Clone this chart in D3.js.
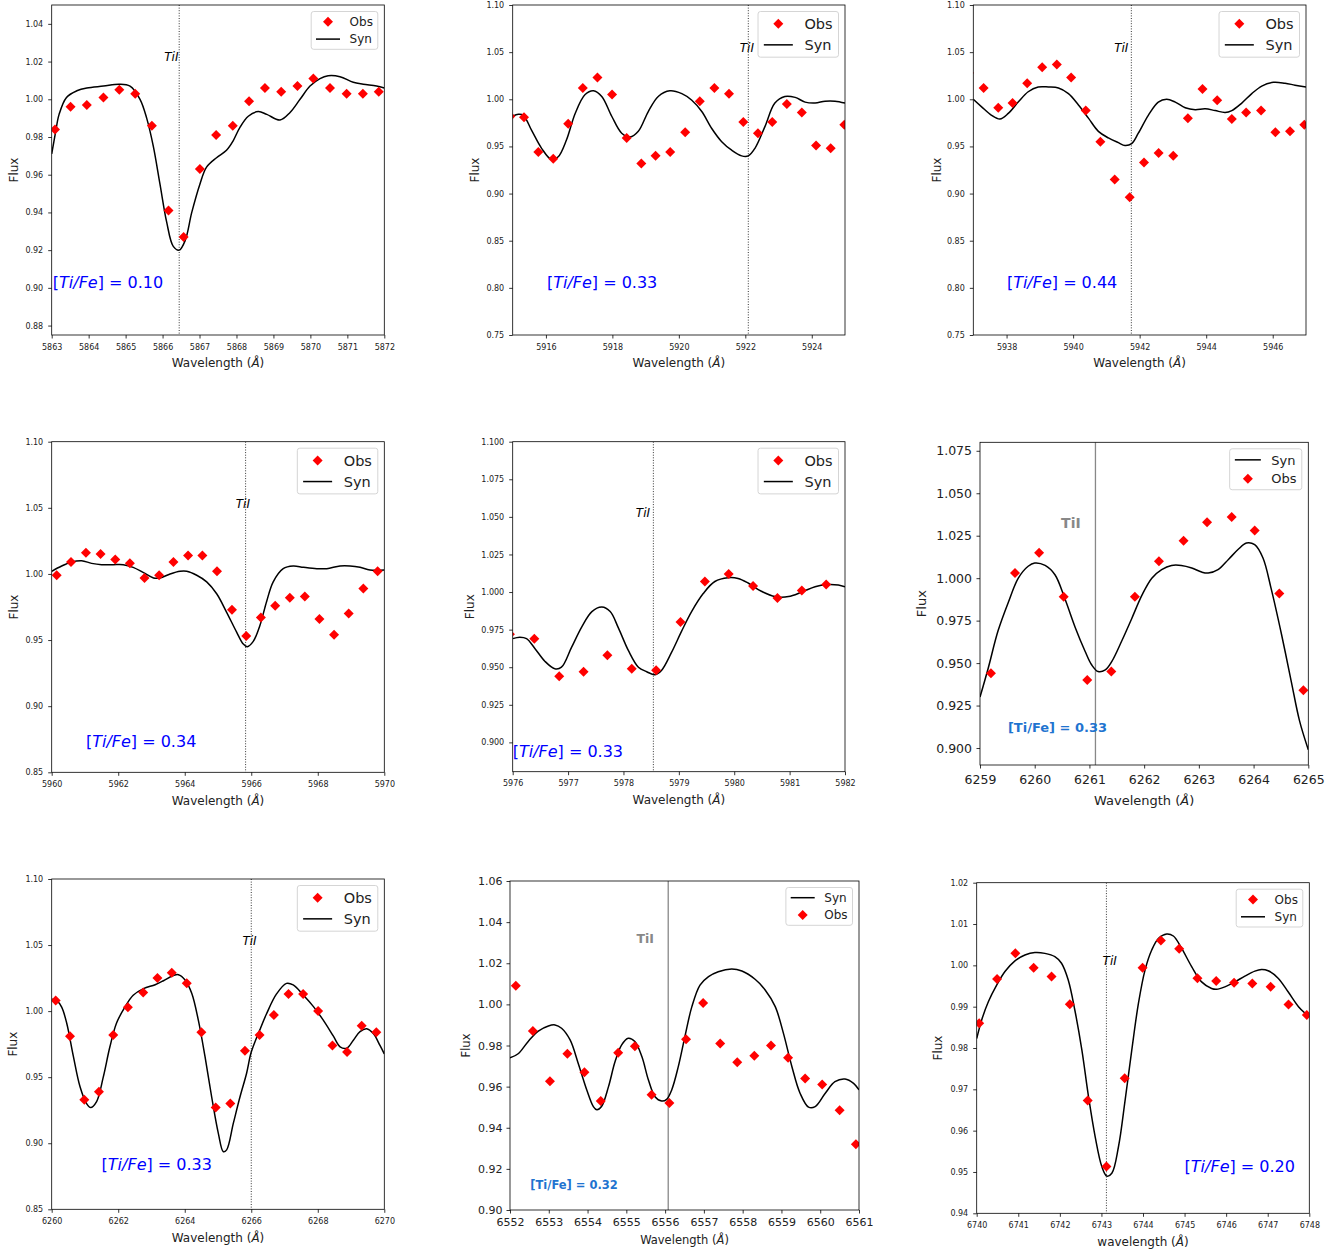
<!DOCTYPE html>
<html lang="en">
<head>
<meta charset="utf-8">
<title>Ti I line fits</title>
<script src="https://d3js.org/d3.v7.min.js"></script>
<style>
body { margin: 0; background: #fff; }
text { font-family: "DejaVu Sans", sans-serif; }
</style>
</head>
<body>
<div id="chart"></div>
<script>

// ---- panel 1 : Ti I 5866
var p1ObsWave = [5863.09, 5863.51, 5863.95, 5864.40, 5864.83, 5865.26, 5865.71, 5866.16, 5866.57, 5867.01, 5867.45, 5867.90, 5868.34, 5868.77, 5869.21, 5869.65, 5870.08, 5870.53, 5870.98, 5871.42, 5871.85];
var p1ObsFlux = [0.984, 0.996, 0.997, 1.001, 1.005, 1.003, 0.986, 0.941, 0.927, 0.963, 0.981, 0.986, 0.999, 1.006, 1.004, 1.007, 1.011, 1.006, 1.003, 1.003, 1.004];
var p1SynWave = [5863.0, 5863.1, 5863.2, 5863.4, 5863.68, 5863.95, 5864.4, 5864.83, 5865.12, 5865.39, 5865.57, 5865.75, 5865.93, 5866.11, 5866.29, 5866.45, 5866.61, 5866.79, 5867.01, 5867.19, 5867.46, 5867.73, 5867.91, 5868.09, 5868.32, 5868.59, 5868.82, 5869.18, 5869.45, 5869.72, 5869.99, 5870.26, 5870.48, 5870.80, 5871.16, 5871.43, 5871.79, 5872.0];
var p1SynFlux = [0.971, 0.982, 0.992, 1.001, 1.0045, 1.006, 1.007, 1.008, 1.007, 1.000, 0.990, 0.975, 0.955, 0.935, 0.922, 0.920, 0.925, 0.940, 0.955, 0.964, 0.969, 0.973, 0.978, 0.985, 0.991, 0.9935, 0.992, 0.989, 0.993, 1.000, 1.007, 1.011, 1.0125, 1.012, 1.009, 1.008, 1.007, 1.006];

// ---- panel 2 : Ti I 5922
var p2ObsWave = [5914.93, 5915.34, 5915.77, 5916.22, 5916.67, 5917.11, 5917.55, 5917.99, 5918.43, 5918.87, 5919.30, 5919.74, 5920.19, 5920.63, 5921.07, 5921.51, 5921.94, 5922.38, 5922.81, 5923.25, 5923.70, 5924.13, 5924.57, 5924.98];
var p2ObsFlux = [0.982, 0.981, 0.944, 0.937, 0.974, 1.012, 1.023, 1.005, 0.959, 0.932, 0.940, 0.944, 0.965, 0.998, 1.012, 1.006, 0.976, 0.964, 0.976, 0.995, 0.986, 0.951, 0.948, 0.973];
var p2SynWave = [5915.0, 5915.17, 5915.32, 5915.57, 5915.87, 5916.17, 5916.37, 5916.62, 5916.88, 5917.18, 5917.43, 5917.68, 5917.98, 5918.28, 5918.53, 5918.78, 5919.08, 5919.38, 5919.73, 5920.09, 5920.39, 5920.69, 5920.99, 5921.29, 5921.59, 5921.89, 5922.09, 5922.29, 5922.59, 5922.89, 5923.19, 5923.50, 5923.80, 5924.10, 5924.40, 5924.70, 5925.0];
var p2SynFlux = [0.982, 0.984, 0.983, 0.967, 0.948, 0.936, 0.939, 0.957, 0.985, 1.005, 1.009, 1.003, 0.982, 0.964, 0.960, 0.966, 0.987, 1.003, 1.009, 1.006, 0.999, 0.987, 0.969, 0.955, 0.946, 0.940, 0.940, 0.948, 0.971, 0.996, 1.003, 1.002, 0.997, 0.996, 0.998, 0.998, 0.996];

// ---- panel 3 : Ti I 5941
var p3ObsWave = [5936.87, 5937.31, 5937.75, 5938.18, 5938.62, 5939.07, 5939.51, 5939.94, 5940.38, 5940.82, 5941.25, 5941.70, 5942.13, 5942.57, 5943.01, 5943.45, 5943.89, 5944.33, 5944.77, 5945.20, 5945.65, 5946.08, 5946.52, 5946.95];
var p3ObsFlux = [1.028, 1.012, 0.991, 0.996, 1.017, 1.034, 1.037, 1.023, 0.988, 0.955, 0.915, 0.896, 0.933, 0.943, 0.940, 0.980, 1.011, 0.999, 0.979, 0.986, 0.988, 0.965, 0.966, 0.973];
var p3SynWave = [5937.0, 5937.25, 5937.55, 5937.80, 5938.05, 5938.35, 5938.65, 5938.95, 5939.26, 5939.56, 5939.86, 5940.16, 5940.46, 5940.76, 5941.06, 5941.36, 5941.56, 5941.76, 5941.96, 5942.26, 5942.56, 5942.81, 5943.07, 5943.37, 5943.67, 5943.97, 5944.27, 5944.57, 5944.77, 5945.07, 5945.37, 5945.67, 5946.02, 5946.37, 5946.67, 5947.0];
var p3SynFlux = [1.000, 0.992, 0.983, 0.979, 0.985, 0.997, 1.008, 1.013, 1.013, 1.012, 1.006, 0.994, 0.980, 0.966, 0.959, 0.954, 0.951, 0.953, 0.964, 0.983, 0.997, 1.000, 0.997, 0.991, 0.989, 0.990, 0.988, 0.986, 0.988, 0.996, 1.006, 1.014, 1.018, 1.017, 1.015, 1.013];

// ---- panel 4 : Ti I 5965
var p4ObsWave = [5960.15, 5960.58, 5961.03, 5961.47, 5961.91, 5962.35, 5962.79, 5963.23, 5963.66, 5964.10, 5964.53, 5964.97, 5965.42, 5965.85, 5966.29, 5966.72, 5967.16, 5967.61, 5968.05, 5968.49, 5968.93, 5969.37, 5969.80];
var p4ObsFlux = [0.999, 1.009, 1.016, 1.015, 1.011, 1.008, 0.997, 0.999, 1.009, 1.014, 1.014, 1.002, 0.973, 0.953, 0.967, 0.976, 0.982, 0.983, 0.966, 0.954, 0.970, 0.989, 1.002];
var p4SynWave = [5960.0, 5960.30, 5960.60, 5960.90, 5961.20, 5961.50, 5961.85, 5962.15, 5962.45, 5962.76, 5963.06, 5963.26, 5963.56, 5963.86, 5964.06, 5964.36, 5964.66, 5964.96, 5965.26, 5965.56, 5965.76, 5965.88, 5966.06, 5966.26, 5966.46, 5966.66, 5966.96, 5967.26, 5967.57, 5967.97, 5968.27, 5968.67, 5968.97, 5969.27, 5969.57, 5970.0];
var p4SynFlux = [1.002, 1.006, 1.009, 1.010, 1.008, 1.007, 1.007, 1.007, 1.005, 1.001, 0.997, 0.997, 1.000, 1.002, 1.002, 0.999, 0.994, 0.985, 0.971, 0.956, 0.947, 0.945, 0.949, 0.961, 0.979, 0.994, 1.004, 1.006, 1.005, 1.004, 1.004, 1.006, 1.006, 1.005, 1.003, 1.003];

// ---- panel 5 : Ti I 5978
var p5ObsWave = [5975.95, 5976.39, 5976.84, 5977.28, 5977.71, 5978.15, 5978.59, 5979.03, 5979.47, 5979.90, 5980.34, 5980.78, 5981.22, 5981.66];
var p5ObsFlux = [0.972, 0.969, 0.944, 0.947, 0.958, 0.949, 0.948, 0.980, 1.007, 1.012, 1.004, 0.996, 1.001, 1.005];
var p5SynWave = [5976.0, 5976.13, 5976.25, 5976.40, 5976.58, 5976.76, 5976.88, 5977.06, 5977.25, 5977.43, 5977.61, 5977.76, 5977.91, 5978.09, 5978.27, 5978.42, 5978.57, 5978.69, 5978.87, 5979.05, 5979.23, 5979.44, 5979.65, 5979.89, 5980.07, 5980.25, 5980.49, 5980.74, 5980.98, 5981.22, 5981.46, 5981.67, 5981.88, 5982.0];
var p5SynFlux = [0.969, 0.970, 0.969, 0.9625, 0.954, 0.949, 0.950, 0.963, 0.977, 0.987, 0.990, 0.987, 0.976, 0.961, 0.950, 0.947, 0.945, 0.948, 0.960, 0.974, 0.987, 0.999, 1.007, 1.0095, 1.009, 1.006, 1.0005, 0.997, 0.997, 1.000, 1.0035, 1.005, 1.0047, 1.0035];

// ---- panel 6 : Ti I 6261
var p6ObsWave = [6259.20, 6259.64, 6260.08, 6260.53, 6260.96, 6261.40, 6261.83, 6262.27, 6262.72, 6263.15, 6263.60, 6264.02, 6264.47, 6264.91];
var p6ObsFlux = [0.944, 1.003, 1.015, 0.989, 0.940, 0.945, 0.989, 1.010, 1.022, 1.033, 1.036, 1.028, 0.991, 0.934];
var p6SynWave = [6259.0, 6259.15, 6259.33, 6259.52, 6259.70, 6259.88, 6260.00, 6260.19, 6260.37, 6260.55, 6260.74, 6260.92, 6261.04, 6261.16, 6261.29, 6261.41, 6261.59, 6261.77, 6261.96, 6262.14, 6262.32, 6262.50, 6262.68, 6262.87, 6263.05, 6263.17, 6263.35, 6263.54, 6263.72, 6263.87, 6264.02, 6264.17, 6264.32, 6264.51, 6264.69, 6264.84, 6265.0];
var p6SynFlux = [0.930, 0.947, 0.969, 0.986, 1.000, 1.007, 1.0089, 1.0075, 1.002, 0.988, 0.971, 0.957, 0.949, 0.945, 0.946, 0.951, 0.963, 0.976, 0.990, 1.000, 1.005, 1.0075, 1.0075, 1.006, 1.0036, 1.003, 1.005, 1.011, 1.017, 1.0207, 1.0197, 1.012, 0.994, 0.967, 0.939, 0.916, 0.899];

// ---- panel 7 : Ti I 6266
var p7ObsWave = [6260.12, 6260.55, 6260.98, 6261.42, 6261.85, 6262.29, 6262.75, 6263.18, 6263.61, 6264.06, 6264.50, 6264.93, 6265.37, 6265.81, 6266.25, 6266.68, 6267.12, 6267.56, 6268.01, 6268.44, 6268.88, 6269.32, 6269.76];
var p7ObsFlux = [1.008, 0.981, 0.933, 0.939, 0.982, 1.003, 1.014, 1.025, 1.029, 1.021, 0.984, 0.927, 0.930, 0.970, 0.982, 0.997, 1.013, 1.013, 1.000, 0.974, 0.969, 0.989, 0.984];
var p7SynWave = [6260.0, 6260.15, 6260.30, 6260.45, 6260.65, 6260.85, 6261.05, 6261.17, 6261.35, 6261.55, 6261.75, 6261.95, 6262.20, 6262.45, 6262.76, 6263.11, 6263.36, 6263.66, 6263.81, 6264.01, 6264.21, 6264.41, 6264.61, 6264.81, 6265.01, 6265.16, 6265.26, 6265.46, 6265.66, 6265.86, 6266.0, 6266.26, 6266.46, 6266.76, 6267.06, 6267.26, 6267.57, 6267.87, 6268.17, 6268.47, 6268.67, 6268.87, 6269.07, 6269.27, 6269.47, 6269.67, 6269.87, 6270.0];
var p7SynFlux = [1.009, 1.008, 1.003, 0.991, 0.966, 0.943, 0.930, 0.927, 0.9315, 0.950, 0.973, 0.991, 1.003, 1.012, 1.017, 1.020, 1.023, 1.027, 1.0276, 1.0236, 1.0135, 0.993, 0.9655, 0.935, 0.9075, 0.8936, 0.895, 0.915, 0.935, 0.953, 0.969, 0.986, 0.998, 1.013, 1.021, 1.0198, 1.012, 1.0034, 0.993, 0.981, 0.973, 0.972, 0.978, 0.9845, 0.9867, 0.983, 0.974, 0.9676];

// ---- panel 8 : Ti I 6556
var p8ObsWave = [6552.15, 6552.59, 6553.03, 6553.48, 6553.92, 6554.34, 6554.79, 6555.22, 6555.65, 6556.11, 6556.54, 6556.98, 6557.42, 6557.86, 6558.30, 6558.73, 6559.17, 6559.61, 6560.05, 6560.50, 6560.92];
var p8ObsFlux = [1.009, 0.987, 0.9626, 0.976, 0.967, 0.953, 0.9765, 0.9796, 0.956, 0.952, 0.983, 1.0007, 0.981, 0.9718, 0.975, 0.980, 0.974, 0.964, 0.961, 0.9485, 0.932];
var p8SynWave = [6552.0, 6552.21, 6552.47, 6552.73, 6552.99, 6553.16, 6553.33, 6553.55, 6553.76, 6553.98, 6554.15, 6554.24, 6554.36, 6554.54, 6554.71, 6554.88, 6555.05, 6555.22, 6555.40, 6555.57, 6555.74, 6555.91, 6556.04, 6556.17, 6556.34, 6556.51, 6556.69, 6556.90, 6557.12, 6557.37, 6557.72, 6557.98, 6558.32, 6558.58, 6558.84, 6559.05, 6559.27, 6559.48, 6559.70, 6559.87, 6560.13, 6560.38, 6560.64, 6560.86, 6561.0];
var p8SynFlux = [0.974, 0.976, 0.982, 0.987, 0.9895, 0.990, 0.9884, 0.9827, 0.9713, 0.9584, 0.9503, 0.9487, 0.9503, 0.960, 0.9722, 0.9803, 0.9835, 0.9819, 0.9746, 0.9632, 0.9551, 0.953, 0.9538, 0.9584, 0.9697, 0.9843, 0.9989, 1.0094, 1.0135, 1.0159, 1.0172, 1.0162, 1.0122, 1.007, 0.9989, 0.986, 0.9697, 0.9568, 0.950, 0.9503, 0.9568, 0.9624, 0.9637, 0.9616, 0.9584];

// ---- panel 9 : Ti I 6743
var p9ObsWave = [6740.06, 6740.49, 6740.93, 6741.37, 6741.80, 6742.24, 6742.67, 6743.12, 6743.56, 6743.99, 6744.43, 6744.87, 6745.31, 6745.76, 6746.19, 6746.63, 6747.07, 6747.50, 6747.94];
var p9ObsFlux = [0.986, 0.9967, 1.0029, 0.9994, 0.9973, 0.9906, 0.9673, 0.9513, 0.9727, 0.9994, 1.006, 1.004, 0.9969, 0.9962, 0.9958, 0.9956, 0.9948, 0.9905, 0.988];
var p9SynWave = [6740.0, 6740.12, 6740.28, 6740.48, 6740.68, 6740.92, 6741.16, 6741.40, 6741.64, 6741.88, 6742.04, 6742.20, 6742.36, 6742.53, 6742.69, 6742.85, 6743.01, 6743.13, 6743.25, 6743.41, 6743.57, 6743.73, 6743.89, 6744.05, 6744.21, 6744.37, 6744.57, 6744.73, 6744.93, 6745.17, 6745.41, 6745.65, 6745.77, 6745.97, 6746.21, 6746.45, 6746.69, 6746.85, 6747.01, 6747.25, 6747.49, 6747.74, 6747.90, 6748.0];
var p9SynFlux = [0.9823, 0.9868, 0.9912, 0.9952, 0.9985, 1.0011, 1.0025, 1.0031, 1.0029, 1.0021, 1.0005, 0.9965, 0.9892, 0.9795, 0.9682, 0.9585, 0.9513, 0.949, 0.9497, 0.9561, 0.9674, 0.9795, 0.9908, 0.9989, 1.0037, 1.0065, 1.0076, 1.0071, 1.0041, 0.9997, 0.996, 0.9944, 0.9942, 0.9948, 0.996, 0.9974, 0.9986, 0.999, 0.9987, 0.9969, 0.9936, 0.990, 0.9884, 0.9876];

// line centres and abundances
var tiLineWave = [5866.45, 5922.09, 5941.75, 5965.83, 5978.54, 6261.11, 6266.0, 6556.08, 6743.12];
var tiFeValues = ["0.10", "0.33", "0.44", "0.34", "0.33", "0.33", "0.33", "0.32", "0.20"];

// tick values
var p1XTicks = [5863, 5864, 5865, 5866, 5867, 5868, 5869, 5870, 5871, 5872];
var p1YTicks = [0.88, 0.90, 0.92, 0.94, 0.96, 0.98, 1.00, 1.02, 1.04];
var p2XTicks = [5916, 5918, 5920, 5922, 5924];
var p3XTicks = [5938, 5940, 5942, 5944, 5946];
var wideYTicks = [0.75, 0.80, 0.85, 0.90, 0.95, 1.00, 1.05, 1.10];
var p4XTicks = [5960, 5962, 5964, 5966, 5968, 5970];
var p4YTicks = [0.85, 0.90, 0.95, 1.00, 1.05, 1.10];
var p5XTicks = [5976, 5977, 5978, 5979, 5980, 5981, 5982];
var p5YTicks = [0.900, 0.925, 0.950, 0.975, 1.000, 1.025, 1.050, 1.075, 1.100];
var p6XTicks = [6259, 6260, 6261, 6262, 6263, 6264, 6265];
var p6YTicks = [0.900, 0.925, 0.950, 0.975, 1.000, 1.025, 1.050, 1.075];
var p7XTicks = [6260, 6262, 6264, 6266, 6268, 6270];
var p8XTicks = [6552, 6553, 6554, 6555, 6556, 6557, 6558, 6559, 6560, 6561];
var p8YTicks = [0.90, 0.92, 0.94, 0.96, 0.98, 1.00, 1.02, 1.04, 1.06];
var p9XTicks = [6740, 6741, 6742, 6743, 6744, 6745, 6746, 6747, 6748];
var p9YTicks = [0.94, 0.95, 0.96, 0.97, 0.98, 0.99, 1.00, 1.01, 1.02];

// layout of each panel (pixel box: left, top, right, bottom)
var small = {tick: 8, lab: 12, xpad: 5.5, ypad: 5, tiStyle: "italic", abStyle: "math"};
var panels = [
  {ow: p1ObsWave, of: p1ObsFlux, sw: p1SynWave, sf: p1SynFlux, box: [51.7, 5, 384.3, 335], xDom: [5863, 5872], yDom: [0.875, 1.05], xt: p1XTicks, yt: p1YTicks, yf: ".2f", st: small, legend: 12, order: ["obs", "syn"], tiAt: [5866.43, 1.0203], abAt: [5863.03, 0.900], ylabOff: 38, xlabOff: 28, xlab: "Wavelength"},
  {ow: p2ObsWave, of: p2ObsFlux, sw: p2SynWave, sf: p2SynFlux, box: [512.7, 5, 845, 335], xDom: [5915, 5925], yDom: [0.75, 1.10], xt: p2XTicks, yt: wideYTicks, yf: ".2f", st: small, legend: 14.5, order: ["obs", "syn"], tiAt: [5922.26, 1.050], abAt: [5916.03, 0.80], ylabOff: 38, xlabOff: 28, xlab: "Wavelength"},
  {ow: p3ObsWave, of: p3ObsFlux, sw: p3SynWave, sf: p3SynFlux, box: [973.3, 5, 1306, 335], xDom: [5937, 5947], yDom: [0.75, 1.10], xt: p3XTicks, yt: wideYTicks, yf: ".2f", st: small, legend: 14.5, order: ["obs", "syn"], tiAt: [5941.66, 1.050], abAt: [5938.01, 0.80], ylabOff: 37, xlabOff: 28, xlab: "Wavelength"},
  {ow: p4ObsWave, of: p4ObsFlux, sw: p4SynWave, sf: p4SynFlux, box: [51.7, 441.7, 384.3, 772.3], xDom: [5960, 5970], yDom: [0.85, 1.10], xt: p4XTicks, yt: p4YTicks, yf: ".2f", st: small, legend: 14.5, order: ["obs", "syn"], tiAt: [5965.96, 1.050], abAt: [5961.03, 0.869], ylabOff: 38, xlabOff: 28, xlab: "Wavelength"},
  {ow: p5ObsWave, of: p5ObsFlux, sw: p5SynWave, sf: p5SynFlux, box: [512.7, 441.7, 845, 771.7], xDom: [5976, 5982], yDom: [0.8805, 1.10], xt: p5XTicks, yt: p5YTicks, yf: ".3f", st: small, legend: 14.5, order: ["obs", "syn"], tiAt: [5978.48, 1.050], abAt: [5976.0, 0.890], ylabOff: 43, xlabOff: 28, xlab: "Wavelength"},
  {ow: p6ObsWave, of: p6ObsFlux, sw: p6SynWave, sf: p6SynFlux, box: [980, 442.3, 1308.3, 765], xDom: [6259, 6265], yDom: [0.890, 1.080], xt: p6XTicks, yt: p6YTicks, yf: ".3f", st: {tick: 12.5, lab: 13, xpad: 6.5, ypad: 4.5, tiStyle: "bold", abStyle: "bold", abSize: 13}, legend: 13, order: ["syn", "obs"], tiAt: [6260.84, 1.0294], abAt: [6259.51, 0.9094], ylabOff: 59, xlabOff: 35, xlab: "Wavelength"},
  {ow: p7ObsWave, of: p7ObsFlux, sw: p7SynWave, sf: p7SynFlux, box: [51.7, 879, 384.3, 1209.3], xDom: [6260, 6270], yDom: [0.85, 1.10], xt: p7XTicks, yt: p4YTicks, yf: ".2f", st: small, legend: 14.5, order: ["obs", "syn"], tiAt: [6266.16, 1.050], abAt: [6261.5, 0.880], ylabOff: 39, xlabOff: 28, xlab: "Wavelength"},
  {ow: p8ObsWave, of: p8ObsFlux, sw: p8SynWave, sf: p8SynFlux, box: [510, 881, 859, 1210], xDom: [6552, 6561], yDom: [0.90, 1.06], xt: p8XTicks, yt: p8YTicks, yf: ".2f", st: {tick: 11, lab: 11.5, xpad: 4.5, ypad: 4, tiStyle: "bold", abStyle: "bold", abSize: 11.5}, legend: 12, order: ["syn", "obs"], tiAt: [6555.71, 1.030], abAt: [6552.52, 0.910], ylabOff: 44, xlabOff: 30, xlab: "Wavelength"},
  {ow: p9ObsWave, of: p9ObsFlux, sw: p9SynWave, sf: p9SynFlux, box: [976.7, 882.7, 1309.3, 1213.3], xDom: [6740, 6748], yDom: [0.94, 1.02], xt: p9XTicks, yt: p9YTicks, yf: ".2f", st: small, legend: 12, order: ["obs", "syn"], tiAt: [6743.37, 1.0002], abAt: [6745.0, 0.950], ylabOff: 39, xlabOff: 28, xlab: "wavelength"}
];

var w = 1342, h = 1250;
var diamond = "M0,-5L5,0L0,5L-5,0Z";

var svg = d3.select("#chart").append("svg")
  .attr("width", w)
  .attr("height", h);

panels.forEach(drawPanel);

function drawPanel(p, i) {
  var L = p.box[0], T = p.box[1], R = p.box[2], B = p.box[3];
  var xScale = d3.scaleLinear().domain(p.xDom).range([L, R]);
  var yScale = d3.scaleLinear().domain(p.yDom).range([B, T]);
  var g = svg.append("g");

  g.append("clipPath").attr("id", "clip" + i)
    .append("rect").attr("x", L).attr("y", T).attr("width", R - L).attr("height", B - T);
  var inner = g.append("g").attr("clip-path", "url(#clip" + i + ")");

  // Ti I line position
  var boldStyle = p.st.tiStyle == "bold";
  inner.append("line")
    .attr("x1", xScale(tiLineWave[i])).attr("x2", xScale(tiLineWave[i]))
    .attr("y1", T).attr("y2", B)
    .attr("stroke", boldStyle ? "#888" : "#000")
    .attr("stroke-width", boldStyle ? 1.3 : 0.8)
    .attr("stroke-dasharray", boldStyle ? null : "1,1.6");

  // synthetic spectrum
  var synData = p.sw.map(function(d, k) { return [d, p.sf[k]]; });
  var line = d3.line()
    .x(function(d) { return xScale(d[0]); })
    .y(function(d) { return yScale(d[1]); })
    .curve(d3.curveCatmullRom.alpha(0.5));
  inner.append("path").datum(synData)
    .attr("d", line)
    .attr("fill", "none")
    .attr("stroke", "#000")
    .attr("stroke-width", 1.5);

  // observed points
  var obsData = p.ow.map(function(d, k) { return [d, p.of[k]]; });
  inner.selectAll(".obs").data(obsData).enter()
    .append("path")
    .attr("class", "obs")
    .attr("d", diamond)
    .attr("transform", function(d) { return "translate(" + xScale(d[0]) + "," + yScale(d[1]) + ")"; })
    .attr("fill", "#ff0000");

  // axes
  var xAxis = g.append("g")
    .attr("transform", "translate(0," + B + ")")
    .call(d3.axisBottom(xScale).tickValues(p.xt).tickFormat(d3.format("d")).tickSize(3.5).tickPadding(p.st.xpad));
  var yAxis = g.append("g")
    .attr("transform", "translate(" + L + ",0)")
    .call(d3.axisLeft(yScale).tickValues(p.yt).tickFormat(d3.format(p.yf)).tickSize(3.5).tickPadding(p.st.ypad));
  [xAxis, yAxis].forEach(function(a) {
    a.select(".domain").remove();
    a.selectAll("line").attr("stroke", "#000").attr("stroke-width", 0.8);
    a.selectAll("text").attr("font-family", "DejaVu Sans").attr("font-size", p.st.tick).attr("fill", "#222");
  });

  g.append("rect")
    .attr("x", L).attr("y", T).attr("width", R - L).attr("height", B - T)
    .attr("fill", "none").attr("stroke", "#000").attr("stroke-width", 0.8);

  // axis labels
  var xl = g.append("text")
    .attr("x", (L + R) / 2).attr("y", B + p.xlabOff + p.st.lab * 0.36)
    .attr("text-anchor", "middle").attr("font-size", p.st.lab).attr("fill", "#222");
  xl.append("tspan").text(p.xlab + " (");
  xl.append("tspan").attr("font-style", "italic").text("Å");
  xl.append("tspan").text(")");

  g.append("text")
    .attr("transform", "translate(" + (L - p.ylabOff) + "," + ((T + B) / 2) + ") rotate(-90)")
    .attr("dy", "0.36em")
    .attr("text-anchor", "middle").attr("font-size", p.st.lab).attr("fill", "#222")
    .text("Flux");

  // Ti I tag
  g.append("text")
    .attr("x", xScale(p.tiAt[0])).attr("y", yScale(p.tiAt[1]))
    .attr("text-anchor", "end")
    .attr("font-size", boldStyle ? p.st.tick + 1.5 : 12)
    .attr("font-style", boldStyle ? null : "italic")
    .attr("font-weight", boldStyle ? "bold" : null)
    .attr("fill", boldStyle ? "#888" : "#000")
    .text("TiI");

  // abundance text
  var ab = g.append("text")
    .attr("x", xScale(p.abAt[0])).attr("y", yScale(p.abAt[1]));
  if (p.st.abStyle == "math") {
    ab.attr("font-size", 16).attr("fill", "#0000ff");
    ab.append("tspan").text("[");
    ab.append("tspan").attr("font-style", "italic").text("Ti/Fe");
    ab.append("tspan").text("] = " + tiFeValues[i]);
  } else {
    ab.attr("font-size", p.st.abSize).attr("font-weight", "bold").attr("fill", "#1f74d0")
      .text("[Ti/Fe] = " + tiFeValues[i]);
  }

  drawLegend(g, p, R, T);
}

function drawLegend(g, p, R, T) {
  var fs = p.legend;
  var rowSp = fs * 1.45;
  var bw = fs * 5.55, bh = rowSp * 2 + fs * 0.25;
  var bx = R - 6.5 - bw, by = T + 6.5;
  g.append("rect")
    .attr("x", bx).attr("y", by).attr("width", bw).attr("height", bh)
    .attr("rx", 2.5)
    .attr("fill", "#fff").attr("fill-opacity", 0.8)
    .attr("stroke", "#d5d5d5").attr("stroke-width", 1);
  p.order.forEach(function(key, r) {
    var cy = by + fs * 0.85 + r * rowSp;
    if (key == "obs") {
      g.append("path").attr("d", diamond)
        .attr("transform", "translate(" + (bx + fs * 1.4) + "," + cy + ")")
        .attr("fill", "#ff0000");
    } else {
      g.append("line")
        .attr("x1", bx + fs * 0.4).attr("x2", bx + fs * 2.4)
        .attr("y1", cy).attr("y2", cy)
        .attr("stroke", "#000").attr("stroke-width", 1.5);
    }
    g.append("text")
      .attr("x", bx + fs * 3.2).attr("y", cy)
      .attr("dy", "0.36em")
      .attr("font-size", fs).attr("fill", "#222")
      .text(key == "obs" ? "Obs" : "Syn");
  });
}
</script>
</body>
</html>
